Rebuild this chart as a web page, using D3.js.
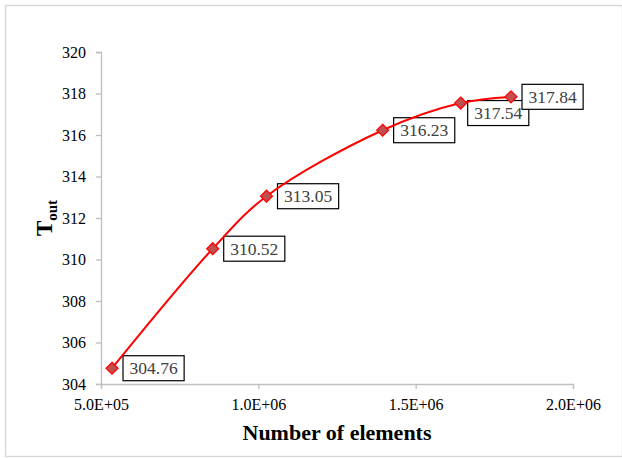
<!DOCTYPE html>
<html>
<head>
<meta charset="utf-8">
<script src="https://cdn.jsdelivr.net/npm/d3@7/dist/d3.min.js"></script>
<style>
  html, body { margin: 0; padding: 0; background: #fff; }
  svg { display: block; }
  svg text { font-family: "Liberation Serif", "Times New Roman", serif !important; }
</style>
</head>
<body>
<svg id="chart" width="622" height="458"></svg>
<script>
// Outlet temperature versus mesh size
const elements = [535000, 855000, 1026000, 1395000, 1643000, 1803000];
const tOut = [304.76, 310.52, 313.05, 316.23, 317.54, 317.84];
const xTicks = [5e5, 1e6, 1.5e6, 2e6];
const yTicks = [304, 306, 308, 310, 312, 314, 316, 318, 320];

const SERIF = "'Liberation Serif', 'Times New Roman', serif";
const svg = d3.select("#chart");
const W = 622, H = 458;
const plot = { left: 101, right: 573, top: 52, bottom: 384 };

// chart frame
svg.append("rect")
  .attr("x", 5.5).attr("y", 5.5)
  .attr("width", W - 5).attr("height", 451)
  .attr("fill", "#fff").attr("stroke", "#d9d9d9").attr("stroke-width", 1.5);

const x = d3.scaleLinear().domain([5e5, 2e6]).range([plot.left, plot.right]);
const y = d3.scaleLinear().domain([304, 320]).range([plot.bottom, plot.top]);

const fmtX = d => d.toExponential(1).toUpperCase().replace(/E([+-])(\d)$/, "E$10$2");

const xAxis = svg.append("g")
  .attr("transform", `translate(0,${plot.bottom})`)
  .call(d3.axisBottom(x).tickValues(xTicks).tickFormat(fmtX).tickSizeOuter(0).tickSize(5).tickPadding(10));
const yAxis = svg.append("g")
  .attr("transform", `translate(${plot.left},0)`)
  .call(d3.axisLeft(y).tickValues(yTicks).tickFormat(d3.format("d")).tickSizeOuter(0).tickSize(5).tickPadding(10));

[xAxis, yAxis].forEach(g => {
  g.attr("font-family", null).attr("font-size", null);
  g.select(".domain").attr("stroke", "#bfbfbf").attr("stroke-width", 1.3);
  g.selectAll(".tick line").attr("stroke", "#bfbfbf").attr("stroke-width", 1.3);
  g.selectAll(".tick text")
    .style("font-family", SERIF)
    .style("font-size", "16px").attr("fill", "#000");
});

// axis titles
svg.append("text")
  .attr("x", (plot.left + plot.right) / 2).attr("y", 440)
  .attr("text-anchor", "middle")
  .style("font-size", "22px").attr("font-weight", "bold").attr("fill", "#000")
  .text("Number of elements");

const yTitle = svg.append("text")
  .attr("transform", `translate(52,${(plot.top + plot.bottom) / 2}) rotate(-90)`)
  .attr("text-anchor", "middle")
  .style("font-size", "23px").attr("font-weight", "bold").attr("fill", "#000");
yTitle.append("tspan").text("T");
yTitle.append("tspan").style("font-size", "15px").attr("dy", 4.5).text("out");

const pts = elements.map((e, i) => [x(e), y(tOut[i])]);

// value labels in boxes (beneath the curve)
const labelLayer = svg.append("g");
const boxes = pts.map((p, i) => {
  const t = svg.append("text")
    .style("font-size", "17.5px").attr("fill", "#404040")
    .text(tOut[i].toFixed(2));
  const w = t.node().getComputedTextLength() + 13;
  t.remove();
  return { i, w, h: 25, x: p[0] + 11, y: p[1] - 12.5 };
});
// nudge a label down-left when it runs into the next one
for (let k = 0; k < boxes.length - 1; k++) {
  const a = boxes[k], b = boxes[k + 1];
  if (a.x + a.w > b.x && a.y + a.h > b.y && a.y < b.y + b.h) {
    a.x -= 4; a.y += 10;
  }
}
boxes.forEach(b => {
  const g = labelLayer.append("g");
  g.append("rect")
    .attr("x", b.x).attr("y", b.y).attr("width", b.w).attr("height", b.h)
    .attr("fill", "#fff").attr("stroke", "#000").attr("stroke-width", 1.2);
  g.append("text")
    .attr("x", b.x + b.w / 2).attr("y", b.y + b.h / 2 + 6)
    .attr("text-anchor", "middle")
    .style("font-size", "17.5px").attr("fill", "#404040")
    .text(tOut[b.i].toFixed(2));
});

// smoothed curve
svg.append("path")
  .attr("d", d3.line().curve(d3.curveCatmullRom.alpha(0.5))(pts))
  .attr("fill", "none").attr("stroke", "#ff0000").attr("stroke-width", 2);

// diamond markers
svg.selectAll(".marker").data(pts).enter().append("path")
  .attr("class", "marker")
  .attr("transform", d => `translate(${d[0]},${d[1]})`)
  .attr("d", "M0,-6L6,0L0,6L-6,0Z")
  .attr("fill", "#c0504d").attr("stroke", "#ff0000").attr("stroke-width", 1.2);
</script>
</body>
</html>
